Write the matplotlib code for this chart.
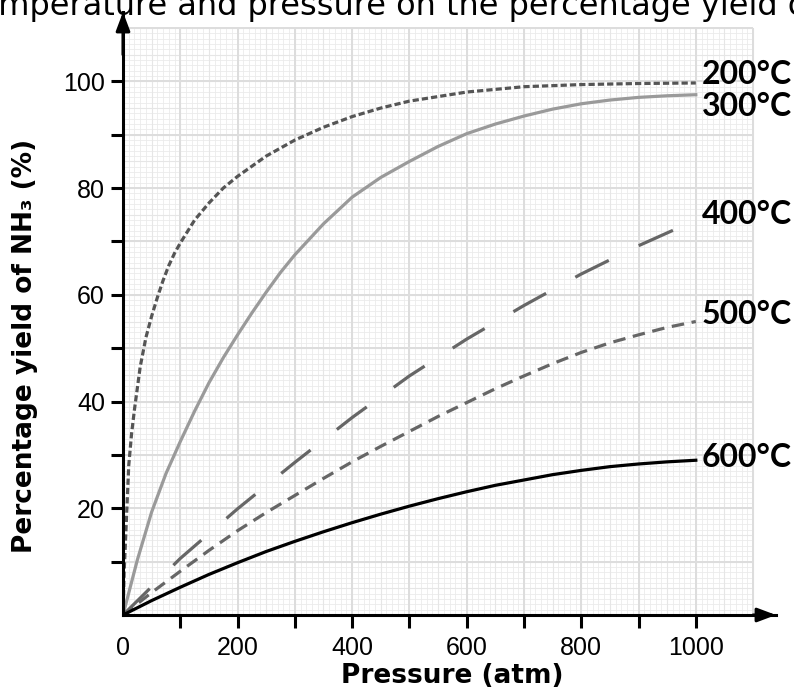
import matplotlib
matplotlib.use("Agg")
import matplotlib.pyplot as plt
import numpy as np

# ---------------- data ----------------
p_200 = [0, 2, 5, 10, 15, 20, 30, 40, 50, 60, 70, 80, 90, 100, 125, 150, 175, 200, 250, 300, 350,
         400, 450, 500, 600, 700, 800, 900, 1000]
y_200 = [0, 8, 15.5, 28, 34, 38.5, 46.5, 52, 56, 59.5, 62.7, 65.5, 67.8, 69.7, 74, 77.2, 80, 82.2, 86,
         89, 91.4, 93.4, 95, 96.3, 98, 99, 99.4, 99.6, 99.7]

p_300 = [0, 25, 50, 75, 100, 125, 150, 175, 200, 225, 250, 275, 300, 350, 400, 450, 500, 550, 600,
         650, 700, 750, 800, 850, 900, 950, 1000]
y_300 = [0, 10.3, 19.3, 26.5, 32.5, 38.2, 43.5, 48.2, 52.5, 56.6, 60.5, 64.2, 67.5, 73.3, 78.3, 82,
         85, 87.8, 90.2, 92, 93.5, 94.8, 95.8, 96.5, 97, 97.3, 97.5]

p_400 = [0, 100, 200, 300, 400, 500, 600, 700, 800, 900, 1000]
y_400 = [0, 10.6, 19.9, 28.6, 37, 44.8, 51.7, 58.0, 63.9, 69.2, 74]

p_500 = [0, 50, 100, 150, 200, 250, 300, 350, 400, 450, 500, 550, 600, 650, 700, 750, 800, 850, 900, 950, 1000]
y_500 = [0, 4.2, 8.2, 12.1, 15.8, 19.2, 22.4, 25.6, 28.7, 31.6, 34.4, 37.2, 39.8, 42.4, 44.8, 47.1,
         49.2, 51, 52.5, 53.9, 55]

p_600 = [0, 50, 100, 150, 200, 250, 300, 350, 400, 450, 500, 550, 600, 650, 700, 750, 800, 850, 900, 950, 1000]
y_600 = [0, 2.7, 5.2, 7.6, 9.8, 11.9, 13.8, 15.6, 17.3, 18.9, 20.4, 21.8, 23.1, 24.3, 25.3, 26.3,
         27.1, 27.8, 28.3, 28.7, 29]

series_labels = ["200°C", "300°C", "400°C", "500°C", "600°C"]
x_ticks = [0, 100, 200, 300, 400, 500, 600, 700, 800, 900, 1000]
x_ticklabels = ["0", "", "200", "", "400", "", "600", "", "800", "", "1000"]
y_ticks = [10, 20, 30, 40, 50, 60, 70, 80, 90, 100]
y_ticklabels = ["", "20", "", "40", "", "60", "", "80", "", "100"]

title_text = "temperature and pressure on the percentage yield of"
xlabel_text = "Pressure (atm)"
ylabel_text = "Percentage yield of NH₃ (%)"

# ---------------- figure ----------------
plt.rcParams['lines.scale_dashes'] = False
W, H = 794, 694
fig = plt.figure(figsize=(W / 100, H / 100), dpi=100)
ax = fig.add_axes([123 / W, (H - 615) / H, 653 / W, 603 / H])
ax.set_xlim(0, 1140)
ax.set_ylim(0, 113)

# graph-paper grid
ax.vlines(np.arange(0, 1101, 10), 0, 110, color='#ebebeb', lw=0.6, zorder=0)
ax.hlines(np.arange(0, 111, 1), 0, 1100, color='#ebebeb', lw=0.6, zorder=0)
ax.vlines(np.arange(0, 1101, 50), 0, 110, color='#e6e6e6', lw=0.8, zorder=0.2)
ax.hlines(np.arange(0, 111, 5), 0, 1100, color='#e6e6e6', lw=0.8, zorder=0.2)
ax.vlines(np.arange(0, 1101, 100), 0, 110, color='#dddddd', lw=1.4, zorder=0.5)
ax.hlines(np.arange(0, 111, 10), 0, 1100, color='#dddddd', lw=1.4, zorder=0.5)

# dash phase for the long-dash line: a dash begins near 88 atm, as in the reference
dash_on, dash_off = 27.0, 24.0
pts = ax.transData.transform(np.column_stack([p_400, y_400]))
seg = np.hypot(np.diff(pts[:, 0]), np.diff(pts[:, 1])) * 72 / 100
cum = np.concatenate([[0], np.cumsum(seg)])
s_start = np.interp(88, p_400, cum)
phase = (-s_start) % (dash_on + dash_off)

# curves
ax.plot(p_200, y_200, color='#555555', lw=2.3, linestyle=(0, (4.5, 2.2)), zorder=3)
ax.plot(p_300, y_300, color='#9a9a9a', lw=2.3, linestyle='-', zorder=3)
ax.plot(p_400, y_400, color='#666666', lw=2.3, linestyle=(phase, (dash_on, dash_off)), zorder=3)
ax.plot(p_500, y_500, color='#666666', lw=2.3, linestyle=(0, (9, 5.5)), zorder=3)
ax.plot(p_600, y_600, color='#000000', lw=2.3, linestyle='-', zorder=3)

# curve labels
ends = [y_200[-1], y_300[-1], y_400[-1], y_500[-1], y_600[-1]]
offsets = [-0.1, -4.0, -0.8, -0.4, -1.2]
for lab, ye, off in zip(series_labels, ends, offsets):
    ax.text(1010, ye + off, lab, fontsize=23, fontweight='bold', family=['Lato', 'DejaVu Sans'],
            va='baseline', ha='left', clip_on=False, zorder=5)

# axes styling
for s in ['top', 'right']:
    ax.spines[s].set_visible(False)
for s in ['left', 'bottom']:
    ax.spines[s].set_linewidth(2.2)
    ax.spines[s].set_zorder(4)
ax.set_xticks(x_ticks)
ax.set_xticklabels(x_ticklabels, family=['Liberation Sans', 'DejaVu Sans'], fontsize=18)
ax.set_yticks(y_ticks)
ax.set_yticklabels(y_ticklabels, family=['Liberation Sans', 'DejaVu Sans'], fontsize=18)
ax.tick_params(axis='x', direction='out', length=9, width=2.2, pad=6)
ax.tick_params(axis='y', direction='out', length=9, width=2.2, pad=4)
ax.xaxis.get_major_ticks()[0].tick1line.set_visible(False)

# arrow heads
ax.annotate('', xy=(0, 113), xytext=(0, 105), xycoords='data',
            arrowprops=dict(arrowstyle='-|>,head_length=0.8,head_width=0.3', color='black',
                            lw=2.2, shrinkA=0, shrinkB=0, mutation_scale=14),
            annotation_clip=False)
ax.annotate('', xy=(1140, 0), xytext=(1100, 0), xycoords='data',
            arrowprops=dict(arrowstyle='-|>,head_length=0.8,head_width=0.3', color='black',
                            lw=2.2, shrinkA=0, shrinkB=0, mutation_scale=14),
            annotation_clip=False)

# axis labels
fig.text(452 / W, 11 / H, xlabel_text, fontsize=19, fontweight='bold', family=['DejaVu Sans'],
         ha='center', va='baseline')
fig.text(25 / W, (H - 346) / H, ylabel_text, fontsize=19, fontweight='bold', rotation=90,
         family=['DejaVu Sans'], ha='center', va='center')

# cut-off title at the top
fig.canvas.draw()
r = fig.canvas.get_renderer()
tmp = fig.text(0, 0, "te", fontsize=23, family='DejaVu Sans')
wte = tmp.get_window_extent(r).width
tmp.remove()
fig.text(-(wte + 2) / W, (H - 15) / H, title_text, fontsize=23, family='DejaVu Sans',
         ha='left', va='baseline')

fig.savefig("out.png", dpi=100)
